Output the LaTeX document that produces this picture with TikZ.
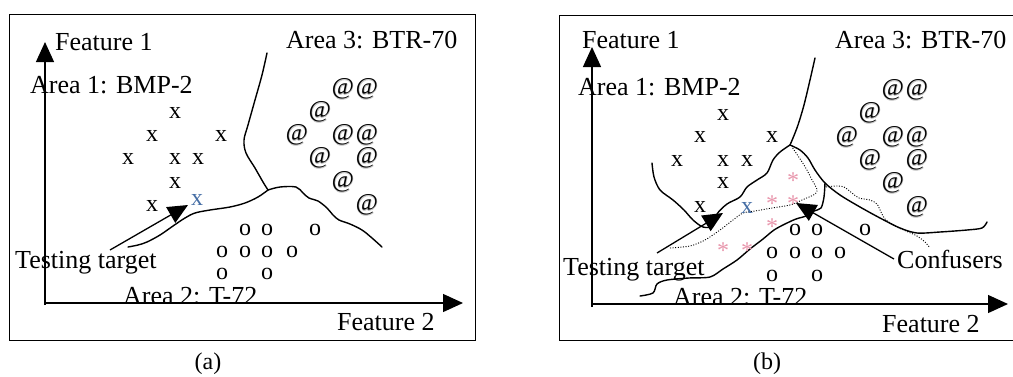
\documentclass[tikz,border=0pt]{standalone}
\usepackage{fontspec}
\setmainfont{Liberation Serif}
\newfontfamily\halofont[FakeBold=4]{Liberation Serif}
\usetikzlibrary{arrows.meta}
\definecolor{bluex}{RGB}{70,110,165}
\definecolor{starpink}{RGB}{232,150,172}
\newcommand\haloat{\makebox[0pt][c]{\color{black!22}\halofont @}\makebox[0pt][c]{@}}

\begin{document}
\begin{tikzpicture}[x=1pt,y=-1pt,
  lbl/.style={font=\fontsize{26}{30}\selectfont, inner sep=0pt, anchor=base west},
  caption/.style={font=\fontsize{24}{28}\selectfont, inner sep=0pt, anchor=base},
  xm/.style={font=\fontsize{24}{28}\selectfont, inner sep=0pt},
  om/.style={font=\fontsize{24}{28}\selectfont, inner sep=0pt},
  atm/.style={font=\fontsize{24}{28}\selectfont, inner sep=0pt},
  stm/.style={font=\fontsize{24}{28}\selectfont, inner sep=0pt, text=starpink, yshift=-3.5pt},
  frame/.style={draw, line width=0.9pt},
  axis/.style={line width=1.3pt, -{Triangle[length=20pt,width=18pt]}},
  ptr/.style={line width=1.3pt, -{Triangle[length=20pt,width=18pt]}},
  bnd/.style={line width=1.4pt, line cap=round, line join=round},
  dots/.style={line width=0.9pt, dash pattern=on 1pt off 1.6pt},
]
\useasboundingbox (0,0) rectangle (1013,376);

% ---------------- panel (a) ----------------
\draw[frame] (9.5,14) rectangle (475,340);
\coordinate (a-o) at (45,305);
\coordinate (a-ytop) at (45,42);
\coordinate (a-xo) at (45,303);
\coordinate (a-xend) at (463,303);
\draw[axis] (a-o) -- (a-ytop);
\draw[axis] (a-xo) -- (a-xend);

\node[lbl] (a-f1) at (55,50) {Feature 1};
\node[lbl] (a-area3) at (286,48) {Area 3: BTR-70};
\node[lbl] (a-area1) at (30,93) {Area 1: BMP-2};
\node[lbl] (a-tt) at (15,268) {Testing target};
\node[lbl] (a-f2) at (337,330) {Feature 2};
\begin{scope}
  \clip (100,250) rectangle (320,302.3);
  \node[lbl] (a-area2) at (123,304.5) {Area 2: T-72};
\end{scope}
\node[caption] (a-cap) at (208,369) {(a)};

% class boundaries
\draw[bnd] plot[smooth,tension=0.55] coordinates {(267,53) (262,75) (255,100) (248,125) (244,140) (246,153) (255,168) (263,182) (268,190)};
\draw[bnd] plot[smooth,tension=0.55] coordinates {(268,190) (280,187) (296,187) (303,193) (309,198) (318,201) (327,208) (333,215) (339,220) (350,224) (362,230) (372,238) (382,247)};
\draw[bnd] plot[smooth,tension=0.55] coordinates {(268,190) (258,197) (245,203) (230,207) (210,210) (195,213) (185,218) (173,226) (160,235) (147,242) (138,245) (128,247)};

% samples
\foreach \p [count=\i] in {(175,113),(152,136),(221,136),(128,159),(175,159),(198,159),(175,183),(152,206)}
  \node[xm] (a-x\i) at \p {x};
\node[xm, text=bluex] (a-test) at (197,200) {x};
\foreach \p [count=\i] in {(245,230),(267,230),(315,230),(222,252),(245,252),(267,252),(292,252),(222,274),(267,274)}
  \node[om] (a-o\i) at \p {o};
\foreach \p [count=\i] in {(343,89),(367,89),(320,112),(297,135),(343,135),(367,135),(320,158),(367,158),(343,182),(367,205)}
  \node[atm] (a-at\i) at \p {\haloat};

\coordinate (a-tt-tail) at (110,250);
\coordinate (a-tt-tip) at (188,205);
\draw[ptr] (a-tt-tail) -- (a-tt-tip);

% ---------------- panel (b) ----------------
\draw[frame] (559,15) -- (1020,15);
\draw[frame] (559,340) -- (1020,340);
\draw[frame] (559,15) -- (559,340);
\coordinate (b-o) at (592,307);
\coordinate (b-ytop) at (592,47);
\coordinate (b-xo) at (592,304);
\coordinate (b-xend) at (1008,304);
\draw[axis] (b-o) -- (b-ytop);
\draw[axis] (b-xo) -- (b-xend);

\node[lbl] (b-f1) at (582,48) {Feature 1};
\node[lbl] (b-area3) at (835,48) {Area 3: BTR-70};
\node[lbl] (b-area1) at (578,95) {Area 1: BMP-2};
\node[lbl] (b-tt) at (563,275) {Testing target};
\node[lbl] (b-conf) at (897,268) {Confusers};
\node[lbl] (b-f2) at (882,332) {Feature 2};
\begin{scope}
  \clip (650,250) rectangle (860,303.3);
  \node[lbl] (b-area2) at (673,305) {Area 2: T-72};
\end{scope}
\node[caption] (b-cap) at (767,369) {(b)};

% class boundaries
\draw[bnd] plot[smooth,tension=0.5] coordinates {(815,58) (810,80) (804,105) (798,125) (793,138) (790,145)};
\draw[bnd] plot[smooth,tension=0.5] coordinates {(790,145) (800,150) (808,158) (815,170) (825,183) (840,195) (860,207) (880,218) (900,228) (917,233) (940,232) (967,230) (982,228) (987,222)};
\draw[bnd] plot[smooth,tension=0.5] coordinates {(652,163) (654,177) (660,190) (673,200) (684,210) (693,220) (703,227) (713,226) (717,214) (727,204) (740,197) (747,187) (757,180) (767,173) (773,160) (780,152) (790,145)};
\draw[bnd] plot[smooth,tension=0.5] coordinates {(640,296) (653,293) (657,284) (667,280) (689,278) (710,277) (723,269) (737,260) (750,249) (763,239) (774,230) (785,224) (796,219) (806,216) (814,211) (821,208) (824,197) (825,183)};

% confusion region dividers
\draw[dots] plot[smooth,tension=0.5] coordinates {(670,248) (690,246) (705,240) (720,230) (733,220) (743,213) (755,211) (772,208) (790,205) (802,200) (817,192) (811,178) (804,165) (792,147)};
\draw[dots] plot[smooth,tension=0.5] coordinates {(826,187) (835,186) (844,187) (852,193) (859,198) (870,200) (877,204) (881,212) (885,219) (895,226) (906,231) (917,236) (925,242) (930,248)};

% samples
\foreach \p [count=\i] in {(723,115),(700,137),(772,137),(677,161),(723,161),(747,161),(723,183),(700,207)}
  \node[xm] (b-x\i) at \p {x};
\node[xm, text=bluex] (b-test) at (747,208) {x};
\foreach \p [count=\i] in {(795,230),(817,230),(865,230),(772,253),(795,253),(817,253),(840,253),(772,276),(817,276)}
  \node[om] (b-o\i) at \p {o};
\foreach \p [count=\i] in {(893,90),(917,90),(870,113),(847,137),(893,137),(917,137),(870,160),(917,160),(893,183),(917,207)}
  \node[atm] (b-at\i) at \p {\haloat};
\foreach \p [count=\i] in {(793,177),(772,200),(793,200),(772,223),(723,247),(747,247)}
  \node[stm] (b-s\i) at \p {*};

\coordinate (b-tt-tail) at (657,253);
\coordinate (b-tt-tip) at (723,213);
\draw[ptr] (b-tt-tail) -- (b-tt-tip);
\coordinate (b-cf-tail) at (894,259);
\coordinate (b-cf-tip) at (796,203);
\draw[ptr] (b-cf-tail) -- (b-cf-tip);
\end{tikzpicture}
\end{document}
